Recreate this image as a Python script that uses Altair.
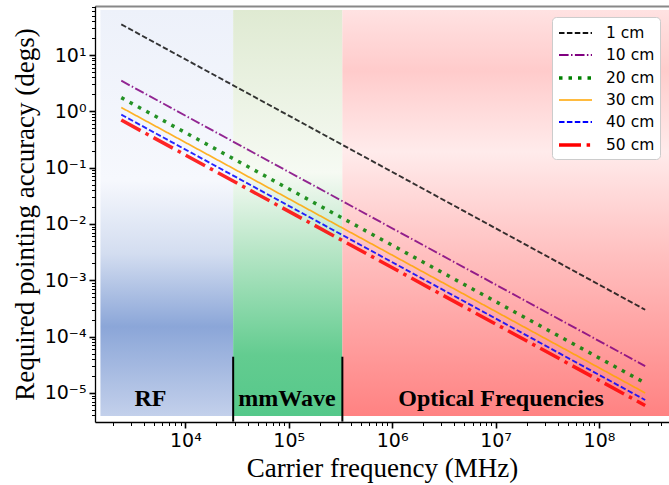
import altair as alt
import pandas as pd

# ---- data ----
sizes = ["1 cm", "10 cm", "20 cm", "30 cm", "40 cm", "50 cm"]
freq_start = 2.4e3
freq_end = 2.8e8
acc_start = [35.0, 3.5, 1.75, 1.17, 0.875, 0.70]
acc_end = [3.0e-4, 3.0e-5, 1.5e-5, 1.0e-5, 7.5e-6, 6.0e-6]

region_names = ["RF", "mmWave", "Optical Frequencies"]
region_x0 = [1.51e3, 2.9e4, 3.3e5]
region_x1 = [2.9e4, 3.3e5, 1.0e9]
region_y0 = 3.9e-6
region_y1 = 63.0
label_x = [4.6e3, 9.6e4, 1.13e7]
label_y = [7.8e-6, 7.8e-6, 7.8e-6]

boundary_x = [2.9e4, 3.3e5]
boundary_y0 = 3.1e-6
boundary_y1 = 4.4e-5

x_domain = [1337, 4.76e8]
y_domain = [3.05e-6, 74.2]

# ---- styles ----
colors = ["#111111", "purple", "green", "orange", "blue", "red"]
widths = [1.9, 1.9, 3.5, 1.7, 1.9, 3.5]
dashes = [[5.5, 2.4], [9.6, 2.4, 1.5, 2.4], [3.5, 6.0], [1, 0], [5.5, 2.4], [22, 5.6, 3.5, 5.6]]

rows = []
for s, a0, a1 in zip(sizes, acc_start, acc_end):
    rows.append({"size": s, "f": freq_start, "acc": a0})
    rows.append({"size": s, "f": freq_end, "acc": a1})
lines_df = pd.DataFrame(rows)

regions_df = pd.DataFrame({
    "name": region_names, "x0": region_x0, "x1": region_x1,
    "y0": [region_y0] * 3, "y1": [region_y1] * 3,
})
labels_df = pd.DataFrame({"name": region_names, "x": label_x, "y": label_y})
bounds_df = pd.DataFrame({"x": boundary_x, "y0": [boundary_y0] * 2, "y1": [boundary_y1] * 2})

# tick values
xticks = [k * 10 ** e for e in range(3, 9) for k in range(1, 10)
          if x_domain[0] <= k * 10 ** e <= x_domain[1]]
yticks = [k * 10.0 ** e for e in range(-6, 2) for k in range(1, 10)
          if y_domain[0] <= k * 10.0 ** e <= y_domain[1]]

is_major = "abs(log(datum.value)/LN10 - round(log(datum.value)/LN10)) < 0.000001"
sup = "'' + round(log(datum.value)/LN10)"
for a, b in [("-", "⁻"), ("0", "⁰"), ("1", "¹"), ("2", "²"), ("3", "³"), ("4", "⁴"),
             ("5", "⁵"), ("6", "⁶"), ("7", "⁷"), ("8", "⁸"), ("9", "⁹")]:
    sup = f"replace({sup}, '{a}', '{b}')"
label_expr = f"({is_major}) ? '10' + {sup} : ''"

def make_axis(values, orient, title):
    return alt.Axis(
        values=values, orient=orient, labelExpr=label_expr, title=title,
        labelOverlap=False, labelFlush=False, labelBound=False,
        labelFont="DejaVu Sans", labelFontSize=19, labelColor="black",
        labelPadding=3,
        tickColor="black",
        tickSize={"condition": {"test": is_major, "value": 6}, "value": 3.5},
        tickWidth={"condition": {"test": is_major, "value": 1.6}, "value": 1},
        domainColor="black", domainWidth=1.3, grid=False,
        titleFont="Liberation Serif", titleFontSize=27, titleFontWeight="normal",
        titleColor="black",
        titlePadding=5,
    )

xscale = alt.Scale(type="log", domain=x_domain, nice=False)
yscale = alt.Scale(type="log", domain=y_domain, nice=False)

def gradient(stops):
    return alt.Gradient(
        gradient="linear", x1=0, x2=0, y1=0, y2=1,
        stops=[alt.GradientStop(offset=o, color=c) for o, c in stops],
    )

grads = [
    [(0, "#edf1fa"), (0.42, "#f6f8fd"), (0.6, "#d3ddf0"), (0.78, "#8ba6d8"), (1, "#c3d0eb")],
    [(0, "#dfead2"), (0.4, "#f6faf3"), (0.6, "#b5e5c5"), (0.85, "#63cc90"), (1, "#55c88a")],
    [(0, "#ffe2e2"), (0.15, "#ffcbcb"), (0.35, "#ffebeb"), (0.6, "#ffc0c0"), (1, "#ff8282")],
]

def region_layers(opacity):
    out = []
    for i, name in enumerate(region_names):
        out.append(
            alt.Chart(regions_df).transform_filter(alt.datum.name == name)
            .mark_rect(color=gradient(grads[i]), clip=True, opacity=opacity)
            .encode(
                x=alt.X("x0:Q", scale=xscale, axis=None),
                x2="x1:Q",
                y=alt.Y("y0:Q", scale=yscale, axis=None),
                y2="y1:Q",
            )
        )
    return out

bounds = alt.Chart(bounds_df).mark_rule(color="black", strokeWidth=2).encode(
    x=alt.X("x:Q", scale=xscale, axis=None),
    y=alt.Y("y0:Q", scale=yscale, axis=None),
    y2="y1:Q",
)

leg = alt.Legend(
    title=None, orient="none", legendX=457, legendY=11,
    symbolType="M-1,0L2.3,0", symbolSize=400, labelOffset=25,
    labelFont="DejaVu Sans", labelFontSize=15.5, labelColor="black",
    rowPadding=2, padding=5, fillColor="white", strokeColor="#cccccc",
    cornerRadius=4,
)

lines = alt.Chart(lines_df).mark_line(clip=True).encode(
    x=alt.X("f:Q", scale=xscale, axis=make_axis(xticks, "bottom", "Carrier frequency (MHz)")),
    y=alt.Y("acc:Q", scale=yscale,
            axis=make_axis(yticks, "left", "Required pointing accuracy (degs)")),
    color=alt.Color("size:N", sort=sizes,
                    scale=alt.Scale(type="ordinal", domain=sizes, range=colors), legend=leg),
    strokeDash=alt.StrokeDash("size:N", sort=sizes,
                              scale=alt.Scale(type="ordinal", domain=sizes, range=dashes), legend=leg),
    strokeWidth=alt.StrokeWidth("size:N", sort=sizes,
                                scale=alt.Scale(type="ordinal", domain=sizes, range=widths), legend=leg),
    order="f:Q",
)

texts = alt.Chart(labels_df).mark_text(
    font="Liberation Serif", fontWeight="bold", fontSize=24, color="black",
    baseline="middle", align="center",
).encode(
    x=alt.X("x:Q", scale=xscale,
            axis=alt.Axis(orient="top", labels=False, ticks=False, title=None,
                          domainColor="#888888", domainWidth=2, grid=False)),
    y=alt.Y("y:Q", scale=yscale, axis=None),
    text="name:N",
)

chart = alt.layer(*region_layers(1.0), lines, *region_layers(0.15), bounds, texts).resolve_axis(
    x="independent", y="independent"
).properties(
    width=574, height=416,
    autosize=alt.AutoSizeParams(type="none"),
    padding={"left": 95, "top": 6, "right": 0, "bottom": 63},
    background="white",
).configure_view(stroke=None)

chart.save("out.html", embed_options={"renderer": "svg", "actions": False})
